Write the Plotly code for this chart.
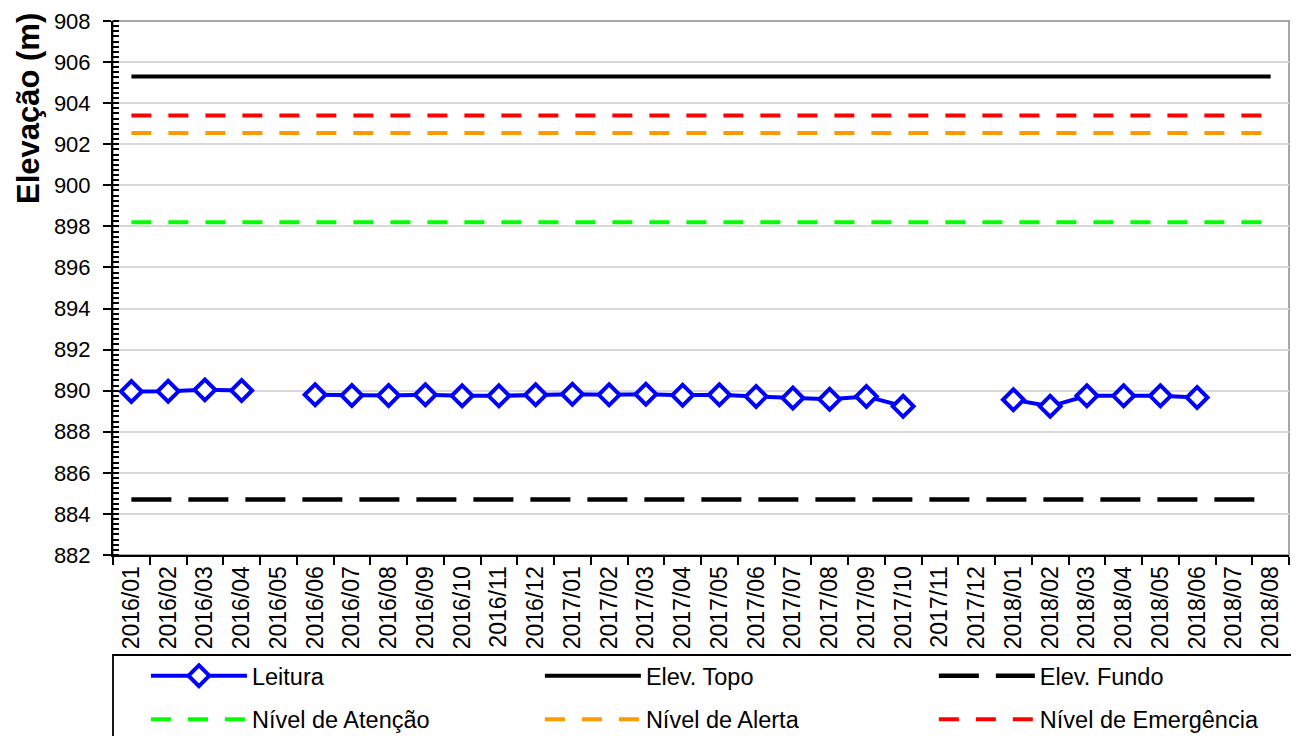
import plotly.graph_objects as go

meses = ["2016/01", "2016/02", "2016/03", "2016/04", "2016/05", "2016/06", "2016/07", "2016/08",
         "2016/09", "2016/10", "2016/11", "2016/12", "2017/01", "2017/02", "2017/03", "2017/04",
         "2017/05", "2017/06", "2017/07", "2017/08", "2017/09", "2017/10", "2017/11", "2017/12",
         "2018/01", "2018/02", "2018/03", "2018/04", "2018/05", "2018/06", "2018/07", "2018/08"]

leitura = [889.96, 889.97, 890.04, 890.01, None, 889.80, 889.77, 889.77,
           889.80, 889.75, 889.75, 889.80, 889.83, 889.80, 889.83, 889.78,
           889.80, 889.72, 889.64, 889.58, 889.72, 889.24, None, None,
           889.56, 889.24, 889.75, 889.75, 889.75, 889.67, None, None]

elev_topo = 905.3
elev_fundo = 884.7
nivel_atencao = 898.2
nivel_alerta = 902.55
nivel_emergencia = 903.4

FONT = "Arial, Liberation Sans, sans-serif"
n = len(meses)

fig = go.Figure()

# legend is laid out as three columns (legend, legend2, legend3) of two rows
fig.add_trace(go.Scatter(x=meses, y=leitura, name="Leitura", mode="lines+markers",
                         line=dict(color="#0000ff", width=4),
                         marker=dict(symbol="diamond", size=16, color="white",
                                     line=dict(color="#0000ff", width=4)),
                         legend="legend", legendgroup="a1"))
fig.add_trace(go.Scatter(x=meses, y=[elev_topo] * n, name="Elev. Topo", mode="lines",
                         line=dict(color="black", width=4),
                         legend="legend2", legendgroup="b1"))
fig.add_trace(go.Scatter(x=meses, y=[elev_fundo] * n, name="Elev. Fundo", mode="lines",
                         line=dict(color="black", width=4.5, dash="40px,17px"),
                         legend="legend3", legendgroup="c1"))
fig.add_trace(go.Scatter(x=meses, y=[nivel_atencao] * n, name="Nível de Atenção", mode="lines",
                         line=dict(color="#00ff00", width=4, dash="20px,17px"),
                         legend="legend", legendgroup="a2"))
fig.add_trace(go.Scatter(x=meses, y=[nivel_alerta] * n, name="Nível de Alerta", mode="lines",
                         line=dict(color="#ff9900", width=4, dash="20px,17px"),
                         legend="legend2", legendgroup="b2"))
fig.add_trace(go.Scatter(x=meses, y=[nivel_emergencia] * n, name="Nível de Emergência", mode="lines",
                         line=dict(color="#ff0000", width=4, dash="20px,17px"),
                         legend="legend3", legendgroup="c2"))

# grey frame of the plot area (top/right), black axes drawn on top
fig.add_shape(type="rect", xref="paper", yref="paper", x0=0, x1=1, y0=0, y1=1,
              line=dict(color="#a6a6a6", width=2), layer="below")
# legend box
fig.add_shape(type="rect", xref="paper", yref="paper", x0=0, x1=1.0026, y0=-0.3633, y1=-0.1873,
              line=dict(color="black", width=1.8))

# y title sits high on the axis, as in the original
fig.add_annotation(text="<b>Elevação (m)</b>", textangle=-90, xref="paper", yref="paper",
                   x=-0.0723, y=0.837, xanchor="center", yanchor="middle",
                   showarrow=False, font=dict(size=31))

leg = dict(orientation="v", xanchor="left", y=-0.1852, yanchor="top",
           itemwidth=96, traceorder="grouped", tracegroupgap=10,
           bgcolor="rgba(0,0,0,0)", borderwidth=0,
           font=dict(family=FONT, size=23.5))

fig.update_layout(
    width=1299, height=736,
    margin=dict(l=105, r=18, t=13, b=189, autoexpand=False),
    paper_bgcolor="white", plot_bgcolor="white",
    font=dict(family=FONT, size=23, color="black"),
    showlegend=True,
    legend=dict(leg, x=0.028),
    legend2=dict(leg, x=0.363),
    legend3=dict(leg, x=0.698),
    xaxis=dict(type="category", range=[-0.5, 31.5], tickson="boundaries",
               ticks="outside", ticklen=8, tickwidth=2, tickcolor="black",
               showline=True, linecolor="black", linewidth=2,
               showgrid=False, tickangle=-90, tickfont=dict(size=23),
               automargin=False),
    yaxis=dict(range=[882, 908], dtick=2, tick0=882,
               ticks="outside", ticklen=8, tickwidth=2, tickcolor="black",
               showline=True, linecolor="black", linewidth=2,
               showgrid=True, gridcolor="#d9d9d9", gridwidth=2, zeroline=False,
               minor=dict(dtick=0.25, ticks="inside", ticklen=6, tickwidth=2,
                          tickcolor="black", showgrid=False),
               tickfont=dict(size=22), automargin=False,
               ticklabeloverflow="allow", ticklabelstandoff=8),
)

fig.write_html("out.html")
